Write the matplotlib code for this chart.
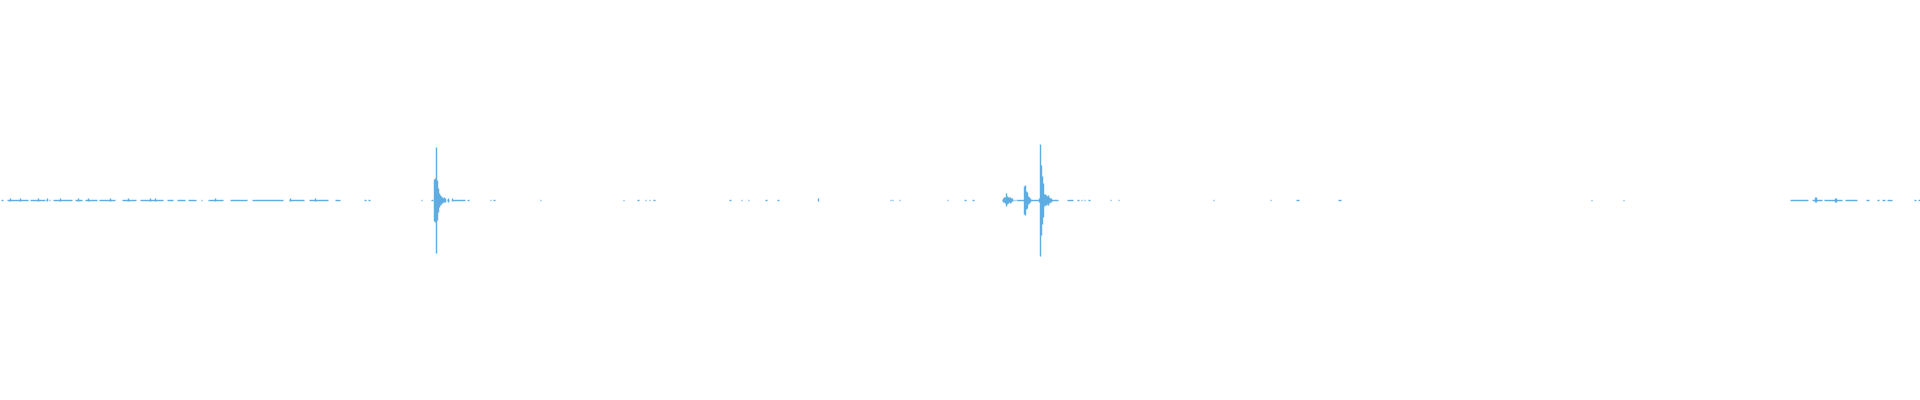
import numpy as np
import matplotlib.pyplot as plt

# tramos de ruido casi plano (inicio, fin) en columnas de muestra
seg_inicio = [1, 7, 30, 46, 49, 53, 75, 85, 99, 122, 140, 167, 177, 188, 201, 208, 230, 252, 289, 309, 335,
              364, 368, 421, 431, 447, 452, 467, 490, 493, 540, 623, 637, 645, 649, 653, 729, 741, 748, 765, 777,
              890, 892, 899, 947, 964, 972, 1002, 1014, 1016, 1017, 1029, 1045, 1067, 1077, 1081, 1084, 1088,
              1110, 1118, 1213, 1270, 1296, 1338, 1591, 1623,
              1790, 1812, 1824, 1845, 1866, 1877, 1882, 1887, 1914, 1918]
seg_fin = [3, 28, 45, 47, 50, 72, 82, 97, 115, 136, 163, 173, 185, 196, 202, 223, 247, 283, 304, 328, 340,
           366, 370, 422, 433, 449, 465, 469, 491, 495, 541, 624, 639, 646, 650, 655, 731, 742, 749, 767, 779,
           891, 893, 900, 948, 966, 974, 1013, 1015, 1017, 1024, 1040, 1058, 1073, 1079, 1082, 1085, 1090,
           1111, 1119, 1214, 1271, 1299, 1341, 1592, 1624,
           1808, 1822, 1842, 1857, 1869, 1879, 1885, 1892, 1916, 1920]

# columnas con amplitud visible (amplitud normalizada)
pico_x = [10, 20, 38, 47, 60, 78, 88, 110, 128, 150, 155, 215, 290, 315, 818,
          434, 435, 436, 437, 438, 439, 440, 441, 442, 443, 444, 445, 448, 452,
          1003, 1004, 1005, 1006, 1007, 1008, 1009, 1010, 1011, 1012,
          1024, 1025, 1026, 1027, 1028, 1029, 1030,
          1039, 1040, 1041, 1042, 1043, 1044, 1045, 1046, 1047, 1048, 1049, 1050, 1051,
          1815, 1816, 1835, 1836]
pico_amp = [0.007, 0.007, 0.007, 0.008, 0.007, 0.007, 0.007, 0.008, 0.007, 0.008, 0.007, 0.007, 0.007, 0.007, 0.006,
            0.105, 0.11, 0.265, 0.1, 0.06, 0.035, 0.025, 0.02, 0.015, 0.01, 0.014, 0.01, 0.01, 0.008,
            0.01, 0.012, 0.015, 0.032, 0.02, 0.015, 0.012, 0.015, 0.01, 0.008,
            0.07, 0.075, 0.045, 0.04, 0.02, 0.015, 0.01,
            0.01, 0.28, 0.175, 0.12, 0.085, 0.03, 0.028, 0.025, 0.02, 0.025, 0.015, 0.01, 0.01,
            0.012, 0.012, 0.01, 0.01]

color = '#5DADE2'

fig = plt.figure(figsize=(19.2, 4), dpi=100)
ax = fig.add_axes([0, 0, 1, 1])
ax.hlines(np.zeros(len(seg_inicio)), seg_inicio, seg_fin, colors=color, lw=1.0)
ax.vlines(pico_x, -np.array(pico_amp), np.array(pico_amp), colors=color, lw=1.0)
ax.set_xlim(0, 1920)
ax.set_ylim(-1.0025, 0.9975)
ax.axis('off')
plt.savefig('out.png', dpi=100, facecolor='white')
